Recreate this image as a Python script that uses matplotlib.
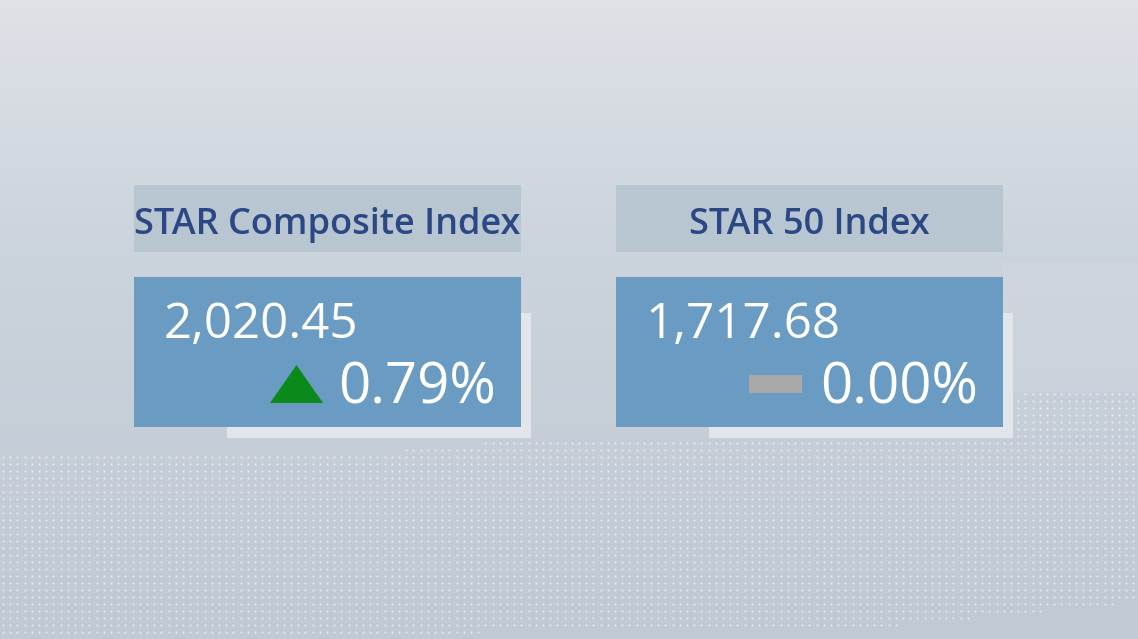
import numpy as np
import matplotlib.pyplot as plt
from matplotlib.patches import Rectangle, Polygon

# index board data
names = ["STAR Composite Index", "STAR 50 Index"]
closes = [2020.45, 1717.68]
changes = [0.79, 0.00]

W, H = 1138, 639
fig = plt.figure(figsize=(W / 100, H / 100), dpi=100)
ax = fig.add_axes([0, 0, 1, 1])
ax.set_xlim(0, W)
ax.set_ylim(H, 0)
ax.axis("off")

# background gradient (light grey-blue)
top = np.array([0xdf, 0xe2, 0xe7]) / 255
mid = np.array([0xcb, 0xd3, 0xdc]) / 255
bot = np.array([0xc0, 0xc9, 0xd4]) / 255
yy = np.linspace(0, 1, H)[:, None]
grad = np.where(yy < 0.4, top + (mid - top) * (yy / 0.4),
                mid + (bot - mid) * ((yy - 0.4) / 0.6))
img = np.repeat(grad[:, None, :], W, axis=1).reshape(H, W, 3)
ax.imshow(img, extent=[0, W, H, 0], aspect="auto", zorder=0)

# dotted band in the lower part
gx, gy = np.meshgrid(np.arange(3, W, 7.2), np.arange(380, H, 7.0))
gx, gy = gx.ravel(), gy.ravel()
y_top = np.interp(gx, [0, 400, 520, 1000, 1020, W], [455, 450, 440, 440, 392, 390])
y_bot = np.interp(gx, [0, 900, W], [640, 625, 602])
keep = (gy >= y_top) & (gy <= y_bot)
ax.scatter(gx[keep], gy[keep], s=2.2, color="white", alpha=0.6, linewidths=0, zorder=1)

# faint lighter panel at right
ax.add_patch(Rectangle((1003, 262), 135, 130, color="white", alpha=0.08, lw=0, zorder=1))

header_bg = "#b8c6d1"
header_fg = "#2b4885"
box_bg = "#699bc3"
shadow = "#e2e5ea"
font = "Open Sans"

x0s = [134, 616]
bw = 387
for i, name in enumerate(names):
    x0 = x0s[i]
    # header
    ax.add_patch(Rectangle((x0, 185), bw, 67, color=header_bg, lw=0, zorder=2))
    ax.text(x0 + bw / 2, 234, name, ha="center", va="baseline", fontsize=26,
            color=header_fg, family=font, weight="semibold", zorder=5)
    # shadow + main box
    ax.add_patch(Rectangle((x0 + 93, 313), 304, 125, color=shadow, lw=0, zorder=2))
    ax.add_patch(Rectangle((x0, 277), bw, 150, color=box_bg, lw=0, zorder=3))

    ax.text(x0 + 30, 338, f"{closes[i]:,.2f}", ha="left", va="baseline",
            fontsize=35.5, color="white", family=font, zorder=5)
    ax.text(x0 + 204, 403, f"{changes[i]:.2f}%", ha="left", va="baseline",
            fontsize=40.5, color="white", family=font, zorder=5)

    # direction marker
    chg = changes[i]
    if chg > 0:
        ax.add_patch(Polygon([[x0 + 136, 403], [x0 + 189, 403], [x0 + 162.5, 365]],
                             closed=True, color="#0b8a1b", lw=0, zorder=4))
    elif chg < 0:
        ax.add_patch(Polygon([[x0 + 136, 365], [x0 + 189, 365], [x0 + 162.5, 403]],
                             closed=True, color="#d0242b", lw=0, zorder=4))
    else:
        ax.add_patch(Rectangle((x0 + 133, 375), 53, 18, color="#a9a9ac", lw=0, zorder=4))

fig.savefig("out.png", dpi=100)
